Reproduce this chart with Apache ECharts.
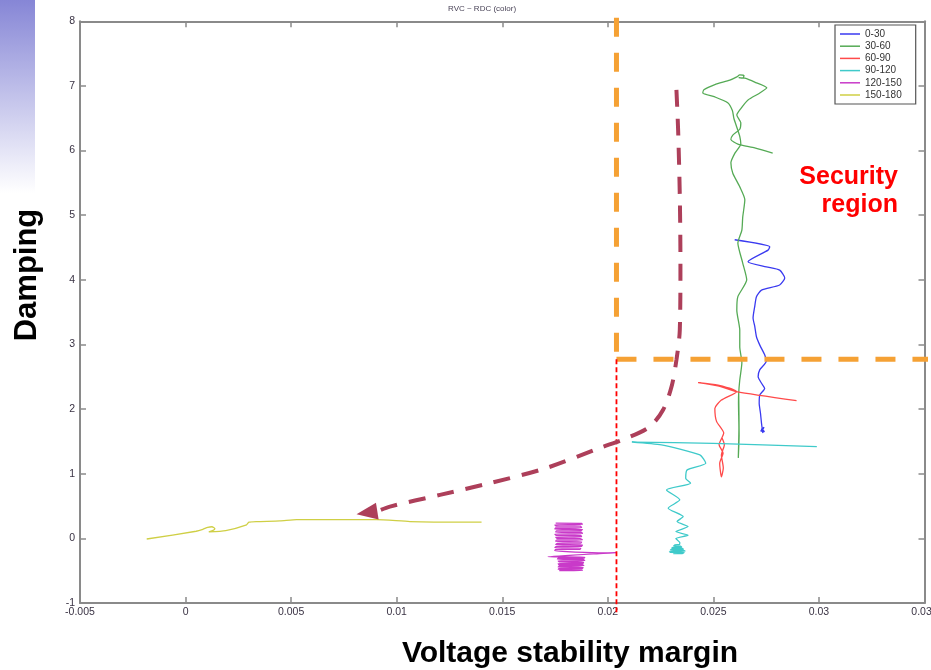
<!DOCTYPE html>
<html>
<head>
<meta charset="utf-8">
<title>RVC ~ RDC (color)</title>
<script src="https://cdn.jsdelivr.net/npm/echarts@6/dist/echarts.min.js"></script>
<style>
  html, body { margin: 0; padding: 0; background: #fff; }
  #chart { width: 931px; height: 670px; }
</style>
</head>
<body>
<div id="chart"></div>
<script>
// Angle bands (legend order)
const bandNames = ['0-30', '30-60', '60-90', '90-120', '120-150', '150-180'];
const bandColors = ['#3a3af0', '#55aa55', '#ff4a4a', '#3fcaca', '#c93ac9', '#cfcf45'];

// Axis ranges: [min, max, step]
const xRange = [-0.005, 0.035, 0.005];
const yRange = [-1, 8, 1];

// Trajectories: [voltage stability margin, damping]
const band0_30 = [
  [0.02601, 4.62], [0.02767, 4.51], [0.02759, 4.46], [0.02664, 4.28], [0.02751, 4.20],
  [0.02814, 4.15], [0.02838, 4.03], [0.02814, 3.92], [0.02728, 3.84], [0.02704, 3.74],
  [0.02696, 3.59], [0.02688, 3.41], [0.02696, 3.28], [0.02704, 3.12], [0.02720, 2.99],
  [0.02743, 2.84], [0.02751, 2.74], [0.02720, 2.61], [0.02712, 2.50], [0.02728, 2.40],
  [0.02743, 2.32], [0.02720, 2.22], [0.02717, 2.09], [0.02723, 1.94], [0.02728, 1.78],
  [0.02733, 1.68], [0.02740, 1.72], [0.02725, 1.66], [0.02742, 1.65], [0.02728, 1.70],
  [0.02735, 1.63]
];

const band30_60 = [
  [0.02620, 2.25], [0.02622, 1.60], [0.02618, 1.245], [0.02621, 1.70], [0.02619, 2.10],
  [0.02620, 2.25], [0.02625, 2.45], [0.02635, 2.72], [0.02625, 2.96], [0.02625, 3.22],
  [0.02611, 3.53], [0.02616, 3.74], [0.02658, 4.00], [0.02639, 4.26], [0.02616, 4.57],
  [0.02635, 4.77], [0.02639, 4.97], [0.02649, 5.24], [0.02625, 5.44], [0.02592, 5.65],
  [0.02583, 5.81], [0.02602, 5.96], [0.02630, 6.10], [0.02625, 6.22], [0.02611, 6.36],
  [0.02597, 6.50], [0.02590, 6.62], [0.02568, 6.74], [0.02507, 6.83], [0.02450, 6.89],
  [0.02455, 6.94], [0.02507, 7.02], [0.02578, 7.09], [0.02611, 7.14], [0.02625, 7.17],
  [0.02645, 7.16], [0.02640, 7.12], [0.02620, 7.13], [0.02649, 7.12], [0.02696, 7.06],
  [0.02753, 6.97], [0.02720, 6.89], [0.02663, 6.78], [0.02630, 6.65], [0.02611, 6.55],
  [0.02630, 6.43], [0.02625, 6.33], [0.02592, 6.24], [0.02583, 6.17], [0.02616, 6.10],
  [0.02696, 6.04], [0.02781, 5.96]
];

const band60_90 = [
  [0.02894, 2.13], [0.02610, 2.27], [0.02521, 2.36], [0.02428, 2.41], [0.02522, 2.37],
  [0.02610, 2.27], [0.02538, 2.14], [0.02507, 2.01], [0.02515, 1.81], [0.02549, 1.63],
  [0.02527, 1.45], [0.02546, 1.32], [0.02530, 1.16], [0.02538, 0.95], [0.02547, 1.09],
  [0.02538, 1.29], [0.02552, 1.45], [0.02540, 1.56]
];

const band90_120 = [
  [0.02310, -0.235], [0.02350, -0.235], [0.02362, -0.220], [0.02296, -0.218], [0.02292, -0.203],
  [0.02366, -0.200], [0.02360, -0.186], [0.02296, -0.184], [0.02300, -0.170], [0.02358, -0.168],
  [0.02352, -0.154], [0.02303, -0.152], [0.02308, -0.138], [0.02350, -0.136], [0.02345, -0.120],
  [0.02312, -0.118], [0.02318, -0.100], [0.02340, -0.095],
  [0.02341, -0.065], [0.02322, -0.003], [0.02380, 0.05], [0.02322, 0.105],
  [0.02380, 0.183], [0.02328, 0.26], [0.02357, 0.337], [0.02286, 0.467], [0.02341, 0.596],
  [0.02278, 0.75], [0.02392, 0.854], [0.02369, 0.931], [0.02376, 1.06], [0.02464, 1.163],
  [0.02436, 1.292], [0.02254, 1.446], [0.02114, 1.49], [0.02500, 1.47], [0.02990, 1.42]
];

const band120_150 = [
  [0.01753, 0.235], [0.01876, 0.232], [0.01880, 0.213], [0.01749, 0.210], [0.01755, 0.190],
  [0.01870, 0.188], [0.01876, 0.165], [0.01753, 0.162], [0.01749, 0.142], [0.01880, 0.140],
  [0.01872, 0.118], [0.01757, 0.115], [0.01753, 0.095], [0.01876, 0.092], [0.01880, 0.070],
  [0.01749, 0.068], [0.01757, 0.046], [0.01872, 0.044], [0.01876, 0.022], [0.01753, 0.020],
  [0.01761, -0.002], [0.01870, -0.004], [0.01880, -0.026], [0.01757, -0.028], [0.01753, -0.050],
  [0.01876, -0.052], [0.01872, -0.074], [0.01761, -0.076], [0.01753, -0.098], [0.01880, -0.100],
  [0.01876, -0.122], [0.01757, -0.124], [0.01749, -0.146], [0.01872, -0.148], [0.01868, -0.170],
  [0.01753, -0.172], [0.01749, -0.193], [0.01978, -0.226], [0.02041, -0.222], [0.01978, -0.232],
  [0.01717, -0.285], [0.01891, -0.288], [0.01887, -0.305], [0.01765, -0.307], [0.01761, -0.325],
  [0.01883, -0.327], [0.01891, -0.345], [0.01765, -0.347], [0.01770, -0.365], [0.01885, -0.367],
  [0.01883, -0.385], [0.01765, -0.387], [0.01768, -0.405], [0.01880, -0.407], [0.01887, -0.425],
  [0.01770, -0.427], [0.01765, -0.445], [0.01883, -0.447], [0.01880, -0.465], [0.01768, -0.467],
  [0.01765, -0.483], [0.01876, -0.485], [0.01880, -0.498], [0.01770, -0.500]
];

const band150_180 = [
  [-0.00184, -0.01], [0.00050, 0.11], [0.00082, 0.14], [0.00105, 0.17], [0.00125, 0.18],
  [0.00139, 0.15], [0.00128, 0.12], [0.00110, 0.10], [0.00190, 0.12], [0.00289, 0.21],
  [0.00300, 0.25], [0.00337, 0.26], [0.00447, 0.27], [0.00526, 0.29], [0.00905, 0.29],
  [0.01063, 0.26], [0.01313, 0.25], [0.01402, 0.25]
];

const bandData = [band0_30, band30_60, band60_90, band90_120, band120_150, band150_180];

// Security limits
const marginLimit = 0.02041;
const dampingLimit = 2.77;
const limitVertical = [[marginLimit, 8.056], [marginLimit, dampingLimit]];
const limitHorizontal = [[marginLimit, dampingLimit], [0.0362, dampingLimit]];
const limitBelow = [[marginLimit, dampingLimit], [marginLimit, -1.15]];

// Degradation path towards the insecure region
const degradePath = [
  [0.02325, 6.94], [0.02333, 6.32], [0.02341, 5.29], [0.02344, 4.26], [0.02341, 3.23],
  [0.02325, 2.76], [0.02302, 2.35], [0.02262, 1.99], [0.02199, 1.73], [0.02089, 1.55],
  [0.01962, 1.40], [0.01710, 1.09], [0.01441, 0.854], [0.01205, 0.673], [0.00968, 0.492],
  [0.00909, 0.421]
];
const degradeHead = [[0.00859, 0.397]];

const fmt = v => String(parseFloat(v.toFixed(4)));
const font = "'Liberation Sans', Arial, sans-serif";
const frameColor = '#8a8a8a';

const chart = echarts.init(document.getElementById('chart'), null, { renderer: 'canvas' });

const series = bandNames.map((name, i) => ({
  name,
  type: 'line',
  data: bandData[i],
  symbol: 'none',
  showSymbol: false,
  smooth: 0.2,
  lineStyle: { color: bandColors[i], width: 1.3 },
  itemStyle: { color: bandColors[i] },
  z: 2
}));

series.push(
  {
    name: 'limit-v', type: 'line', data: limitVertical, symbol: 'none', clip: false, z: 4,
    lineStyle: { color: '#f5a134', width: 5, type: [19, 16], cap: 'butt' }
  },
  {
    name: 'limit-h', type: 'line', data: limitHorizontal, symbol: 'none', clip: false, z: 4,
    lineStyle: { color: '#f5a134', width: 5, type: [20, 17], cap: 'butt' }
  },
  {
    name: 'limit-low', type: 'line', data: limitBelow, symbol: 'none', clip: false, z: 4,
    lineStyle: { color: '#ff0000', width: 1.8, type: [5, 3] }
  },
  {
    name: 'path', type: 'line', data: degradePath, symbol: 'none', smooth: 0.3, z: 5,
    lineStyle: { color: '#ad3f5a', width: 4, type: [17, 12], cap: 'butt' }
  },
  {
    name: 'path-head', type: 'scatter', data: degradeHead, symbol: 'triangle',
    symbolSize: [17, 21], symbolRotate: 99, z: 5,
    itemStyle: { color: '#ad3f5a', opacity: 1 }
  }
);

const valueAxis = (pos, range, showLabel) => ({
  type: 'value',
  position: pos,
  min: range[0], max: range[1], interval: range[2],
  axisLine: { show: true, onZero: false, lineStyle: { color: frameColor, width: 2 } },
  axisTick: { show: true, inside: true, length: 6, lineStyle: { color: frameColor, width: 1.5 } },
  splitLine: { show: false },
  axisLabel: {
    show: showLabel, fontSize: 10.5, color: '#3a3344', fontFamily: font,
    margin: pos === 'left' ? 5 : 4, formatter: fmt, showMinLabel: true, showMaxLabel: true
  }
});

chart.setOption({
  animation: false,
  backgroundColor: '#ffffff',
  title: {
    text: 'RVC ~ RDC (color)',
    left: 448, top: 5, padding: 0,
    textStyle: { fontSize: 8, fontWeight: 'normal', color: '#4a4458', fontFamily: font }
  },
  legend: {
    data: bandNames,
    orient: 'vertical',
    left: 835, top: 25,
    padding: [4, 14, 4, 5],
    icon: 'rect',
    itemWidth: 20, itemHeight: 1.5, itemGap: 2.2,
    selectedMode: false,
    borderColor: '#555', borderWidth: 1.2,
    backgroundColor: '#fff',
    textStyle: { fontSize: 10, color: '#333', fontFamily: font, lineHeight: 10 }
  },
  grid: {
    left: 80, right: 6.5, top: 21.3, bottom: 67,
    containLabel: false, outerBoundsMode: 'none'
  },
  xAxis: [valueAxis('bottom', xRange, true), valueAxis('top', xRange, false)],
  yAxis: [valueAxis('left', yRange, true), valueAxis('right', yRange, false)],
  graphic: [
    {
      type: 'rect', left: 0, top: 0, z: -10, silent: true,
      shape: { width: 35, height: 193 },
      style: {
        fill: new echarts.graphic.LinearGradient(0, 0, 0, 1, [
          { offset: 0, color: '#8686d6' },
          { offset: 1, color: '#ffffff' }
        ])
      }
    },
    {
      type: 'text', x: 27, y: 275, rotation: Math.PI / 2, silent: true,
      style: {
        text: 'Damping', align: 'center', verticalAlign: 'middle',
        font: 'bold 31px ' + font, fill: '#000'
      }
    },
    {
      type: 'text', x: 570, y: 654, silent: true,
      style: {
        text: 'Voltage stability margin', align: 'center', verticalAlign: 'middle',
        font: 'bold 30px ' + font, fill: '#000'
      }
    },
    {
      type: 'text', x: 898, y: 163, silent: true,
      style: {
        text: 'Security\nregion', align: 'right', verticalAlign: 'top',
        font: 'bold 25px ' + font, lineHeight: 28, fill: '#ff0000'
      }
    }
  ],
  series
});
</script>
</body>
</html>
